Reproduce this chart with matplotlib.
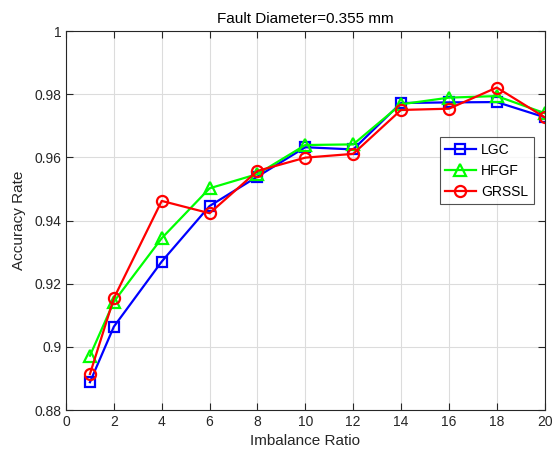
import numpy as np
import matplotlib
matplotlib.use("Agg")
import matplotlib.pyplot as plt

plt.rcParams['font.family'] = ['Liberation Sans', 'DejaVu Sans']

ratio = [1, 2, 4, 6, 8, 10, 12, 14, 16, 18, 20]
lgc = [0.8888, 0.9064, 0.9270, 0.9446, 0.9539, 0.9632, 0.9625, 0.9772, 0.9774, 0.9775, 0.9727]
hfgf = [0.8972, 0.9143, 0.9344, 0.9502, 0.9547, 0.9639, 0.9641, 0.9768, 0.9789, 0.9794, 0.9740]
grssl = [0.8914, 0.9154, 0.9462, 0.9423, 0.9557, 0.9599, 0.9611, 0.9750, 0.9754, 0.9821, 0.9727]

xticks = [0, 2, 4, 6, 8, 10, 12, 14, 16, 18, 20]
yticks = [0.88, 0.90, 0.92, 0.94, 0.96, 0.98, 1.0]
ylabels = ['0.88', '0.9', '0.92', '0.94', '0.96', '0.98', '1']

dark = '#262626'

fig = plt.figure(figsize=(5.52, 4.58), dpi=100)
ax = fig.add_axes([0.1196, 0.1048, 0.8670, 0.8275])

ax.plot(ratio, lgc, color='#0000ff', lw=1.6, marker='s', ms=7.5, mfc='none', mew=1.6, label='LGC')
ax.plot(ratio, hfgf, color='#00ff00', lw=1.6, marker='^', ms=8, mfc='none', mew=1.6, label='HFGF')
ax.plot(ratio, grssl, color='#ff0000', lw=1.6, marker='o', ms=8, mfc='none', mew=1.6, label='GRSSL')

ax.set_xlim(0, 20)
ax.set_ylim(0.88, 1.0)
ax.set_xticks(xticks)
ax.set_yticks(yticks)
ax.set_yticklabels(ylabels)
ax.grid(True, color='#dcdcdc', lw=0.8)
ax.set_axisbelow(True)
ax.tick_params(direction='in', length=5, colors=dark, labelsize=10, top=True, right=True,
               labeltop=False, labelright=False)
for s in ax.spines.values():
    s.set_color(dark)
    s.set_linewidth(0.8)

ax.set_title('Fault Diameter=0.355 mm', fontsize=11, color='black', pad=6)
ax.set_xlabel('Imbalance Ratio', fontsize=11, color=dark, labelpad=4)
ax.set_ylabel('Accuracy Rate', fontsize=11, color=dark, labelpad=6)

leg = ax.legend(loc='upper left', bbox_to_anchor=(0.766, 0.738), fontsize=10, frameon=True,
                fancybox=False, edgecolor=dark, handlelength=2.2, borderpad=0.4,
                labelspacing=0.5, handletextpad=0.4)
leg.get_frame().set_linewidth(0.8)

fig.savefig('out.png', dpi=100)
